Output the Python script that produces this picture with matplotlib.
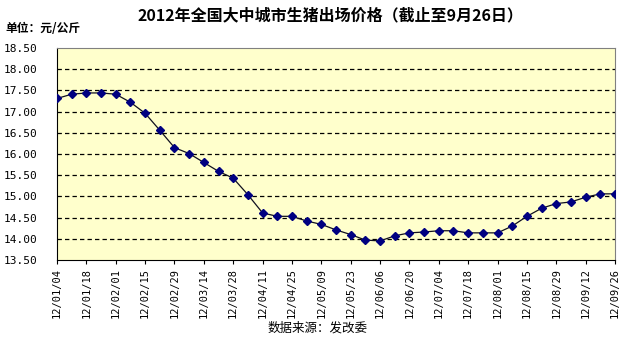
import numpy as np
import matplotlib.pyplot as plt

plt.rcParams['font.family'] = ['Noto Sans CJK SC', 'DejaVu Sans']

# 周度数据，2012/01/04 至 2012/09/26
dates = ['12/01/04', '12/01/11', '12/01/18', '12/01/25', '12/02/01', '12/02/08',
         '12/02/15', '12/02/22', '12/02/29', '12/03/07', '12/03/14', '12/03/21',
         '12/03/28', '12/04/04', '12/04/11', '12/04/18', '12/04/25', '12/05/02',
         '12/05/09', '12/05/16', '12/05/23', '12/05/30', '12/06/06', '12/06/13',
         '12/06/20', '12/06/27', '12/07/04', '12/07/11', '12/07/18', '12/07/25',
         '12/08/01', '12/08/08', '12/08/15', '12/08/22', '12/08/29', '12/09/05',
         '12/09/12', '12/09/19', '12/09/26']
prices = [17.31, 17.41, 17.44, 17.44, 17.41, 17.22, 16.96, 16.56, 16.15, 16.01,
          15.80, 15.59, 15.43, 15.04, 14.61, 14.53, 14.53, 14.42, 14.34, 14.21,
          14.10, 13.97, 13.95, 14.07, 14.14, 14.16, 14.19, 14.19, 14.14, 14.14,
          14.14, 14.30, 14.53, 14.72, 14.83, 14.87, 14.98, 15.06, 15.06]
yticks = np.arange(13.5, 18.51, 0.5)

fig = plt.figure(figsize=(6.36, 3.42), dpi=100)
ax = fig.add_axes([57/636, 1 - 260/342, (615-57)/636, (260-48)/342])
ax.set_facecolor('#FFFFCC')

x = np.arange(len(dates))
for yv in yticks[1:-1]:
    ax.axhline(yv, color='black', lw=0.9, ls=(0, (3.5, 2.5)), zorder=1)

ax.plot(x, prices, color='#101020', lw=0.9, marker='D', ms=4.2,
        mfc='#000080', mec='#000080', zorder=3)

ax.set_xlim(0, len(dates) - 1)
ax.set_ylim(13.5, 18.5)
ax.set_yticks(yticks)
ax.set_yticklabels(['%.2f' % v for v in yticks], family='DejaVu Sans Mono', fontsize=8)
ax.tick_params(axis='y', length=0, pad=14)
ax.set_xticks(x[::2])
ax.set_xticklabels(dates[::2], rotation=90, family='DejaVu Sans Mono', fontsize=7.5)
ax.tick_params(axis='x', length=3, direction='out', pad=3)

for s in ['top', 'right']:
    ax.spines[s].set_color('#808080')
for s in ['left', 'bottom']:
    ax.spines[s].set_color('black')

fig.text(0.52, 1 - 15/342, '2012年全国大中城市生猪出场价格（截止至9月26日）',
         ha='center', va='center', fontsize=11.5, fontweight='bold')
fig.text(5/636, 1 - 29/342, '单位：元/公斤', ha='left', va='center',
         fontsize=8.5, fontweight='bold')
fig.text(318/636, 1 - 328/342, '数据来源：发改委', ha='center', va='center',
         fontsize=9)

fig.savefig('out.png', dpi=100)
